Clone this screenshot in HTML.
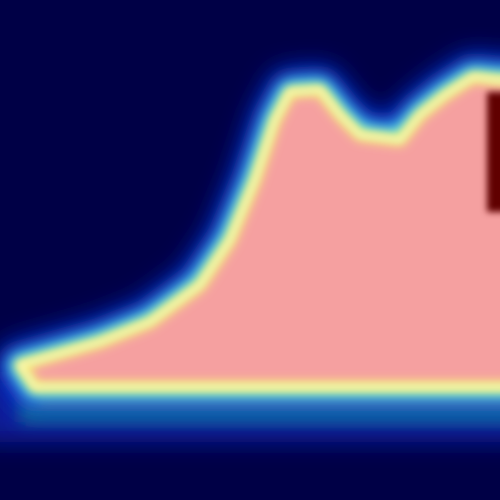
<!DOCTYPE html>
<html><head><meta charset="utf-8"><style>
html,body{margin:0;padding:0;background:#000046;}
svg{display:block}
</style></head><body>
<svg id="chart" width="500" height="500" viewBox="0 0 500 500">
<defs>
<filter id="b12" filterUnits="userSpaceOnUse" x="-100" y="-100" width="700" height="700"><feGaussianBlur stdDeviation="12"/></filter>
<filter id="b8" filterUnits="userSpaceOnUse" x="-100" y="-100" width="700" height="700"><feGaussianBlur stdDeviation="8"/></filter>
<filter id="b5" filterUnits="userSpaceOnUse" x="-100" y="-100" width="700" height="700"><feGaussianBlur stdDeviation="5"/></filter>
<filter id="b3" filterUnits="userSpaceOnUse" x="-100" y="-100" width="700" height="700"><feGaussianBlur stdDeviation="3.5"/></filter>
</defs>
<rect x="0" y="0" width="500" height="500" fill="#000046"/>
<g id="layers"></g>
</svg>
<script>
const profileX = [20,100,150,200,230,255,275,290,320,340,360,400,420,445,473,500];
const profileY = [365,342,322,285,240,180,120,92,90,115,135,140,115,95,77,80];
const baseY = 387;
const hotX = [487, 500];
const hotY = [92, 212];

const g = document.getElementById('layers');
const NS = 'http://www.w3.org/2000/svg';
let pts = profileX.map((x,i)=>x+','+profileY[i]).join(' ');
pts += ' 530,'+profileY[profileY.length-1]+' 530,'+baseY+' '+(profileX[0]+15)+','+baseY;

function band(x1,y1,y2,col,f){
  const r=document.createElementNS(NS,'rect');
  r.setAttribute('x',x1);r.setAttribute('y',y1);r.setAttribute('width',560);r.setAttribute('height',y2-y1);
  r.setAttribute('fill',col);r.setAttribute('filter',f);
  
  
  g.appendChild(r);
}
band(-20,372,442,'#0a1a9a','url(#b12)');
band(20,395,422,'#13808e','url(#b8)');
band(40,388,404,'#a0a020','url(#b5)');

function poly(stroke,sw,fill,f,name){
  const p=document.createElementNS(NS,'polygon');
  p.setAttribute('points',pts);
  p.setAttribute('fill',fill);
  p.setAttribute('stroke',stroke);
  p.setAttribute('stroke-width',sw);
  p.setAttribute('stroke-linejoin','round');
  if(f)p.setAttribute('filter',f);
  
  
  g.appendChild(p);
}
poly('#1030d0',48,'#1030d0','url(#b12)','outer-glow');
poly('#50e0e8',26,'#50e0e8','url(#b8)','cyan-edge');
poly('none',0,'#f5a0a0','url(#b3)','interior');
poly('#f6f27a',12,'none','url(#b5)','yellow-edge');
poly('#fafac8',3,'none','url(#b3)','edge-highlight');

const hot=document.createElementNS(NS,'rect');
hot.setAttribute('x',hotX[0]);hot.setAttribute('y',hotY[0]);
hot.setAttribute('width',hotX[1]-hotX[0]+20);hot.setAttribute('height',hotY[1]-hotY[0]);
hot.setAttribute('fill','#600000');hot.setAttribute('filter','url(#b3)');


g.appendChild(hot);
</script>
</body></html>
